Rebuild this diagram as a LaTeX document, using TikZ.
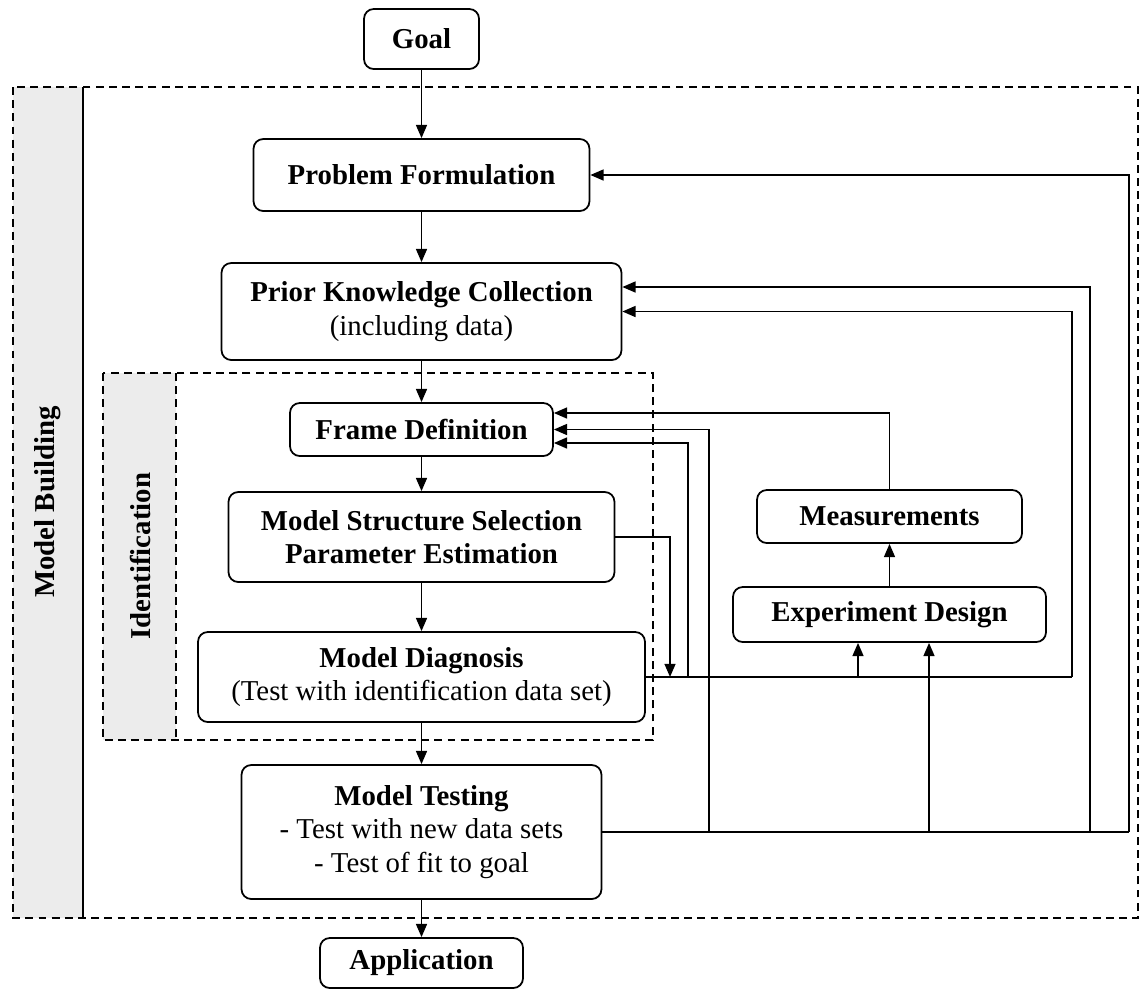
\documentclass[tikz,border=0pt]{standalone}
\usepackage{fontspec}
\setmainfont{Liberation Serif}
\usetikzlibrary{arrows.meta}

\begin{document}
\begin{tikzpicture}[x=0.02cm, y=-0.02cm,
        box/.style={draw, line width=1pt, rounded corners=5.5pt, align=center, inner sep=0pt,
            font=\fontsize{16.4}{19}\selectfont},
        flow/.style={-{Triangle[length=7.5pt, width=6.2pt]}, line width=1pt},
        link/.style={line width=1pt},
        frame/.style={line width=1.1pt, dash pattern=on 4.5pt off 3pt},
        band/.style={rotate=90, font=\bfseries\fontsize{16.4}{19}\selectfont}]
        \useasboundingbox (0, 0) rectangle (1141, 998);

        % grey bands and dashed frames
        \fill[gray!15] (13, 87) rectangle (83, 918);
        \fill[gray!15] (103, 373) rectangle (176, 740);
        \draw[frame] (13, 87) rectangle (1138, 918);
        \draw[line width=1pt] (83, 87) -- (83, 918);
        \draw[frame] (103, 373) rectangle (653, 740);
        \draw[frame] (176, 373) -- (176, 740);
        \node [band] (build) at (48, 502) {Model Building};
        \node [band] (ident) at (140, 556) {Identification};

        % main column
        \node [box, minimum width=2.3cm, minimum height=1.2cm] (goal) at (421.5, 39) {\textbf{Goal}};
        \node [box, minimum width=6.72cm, minimum height=1.44cm] (pf) at (421.5, 175) {\textbf{Problem Formulation}};
        \node [box, minimum width=8cm, minimum height=1.94cm] (pkc) at (421.5, 311.5) {\textbf{Prior Knowledge Collection}\\(including data)};
        \node [box, minimum width=5.26cm, minimum height=1.06cm] (fd) at (421.5, 429.5) {\textbf{Frame Definition}};
        \node [box, minimum width=7.72cm, minimum height=1.8cm] (mss) at (421.5, 537) {\textbf{Model Structure Selection}\\\textbf{Parameter Estimation}};
        \node [box, minimum width=8.94cm, minimum height=1.8cm] (md) at (421.5, 677) {\textbf{Model Diagnosis}\\(Test with identification data set)};
        \node [box, minimum width=7.2cm, minimum height=2.68cm] (mt) at (421.5, 832) {\textbf{Model Testing}\\- Test with new data sets\\- Test of fit to goal};
        \node [box, minimum width=4.06cm, minimum height=1cm] (app) at (421.5, 963) {\textbf{Application}};

        % experiment side
        \node [box, minimum width=5.3cm, minimum height=1.06cm] (meas) at (889.5, 516.5) {\textbf{Measurements}};
        \node [box, minimum width=6.26cm, minimum height=1.1cm] (ed) at (889.5, 614.5) {\textbf{Experiment Design}};

        \coordinate (mdS) at (670, 677);
        \coordinate (mdA) at (688, 677);
        \coordinate (mdB) at (858, 677);
        \coordinate (mdC) at (1072, 677);
        \coordinate (mtA) at (709, 832);
        \coordinate (mtB) at (929, 832);
        \coordinate (mtC) at (1090, 832);
        \coordinate (mtD) at (1129, 832);

        \draw[flow] (goal) -- (pf);
        \draw[flow] (pf) -- (pkc);
        \draw[flow] (pkc) -- (fd);
        \draw[flow] (fd) -- (mss);
        \draw[flow] (mss) -- (md);
        \draw[flow] (md) -- (mt);
        \draw[flow] (mt) -- (app);
        \draw[flow] (ed) -- (meas);

        % feedback paths
        \draw[link] (md.east) -- (mdC);
        \draw[link] (mt.east) -- (mtD);
        \draw[flow] (mss.east) -| (mdS);
        \draw[flow] (mdA) |- ([yshift=-0.27cm]fd.east);
        \draw[flow] (mtA) |- (fd.east);
        \draw[flow] (meas.north) |- ([yshift=0.33cm]fd.east);
        \draw[flow] (mdB) -- (mdB |- ed.south);
        \draw[flow] (mtB) -- (mtB |- ed.south);
        \draw[flow] (mdC) |- (pkc.east);
        \draw[flow] (mtC) |- ([yshift=0.49cm]pkc.east);
        \draw[flow] (mtD) |- (pf.east);

    \end{tikzpicture}
\end{document}
